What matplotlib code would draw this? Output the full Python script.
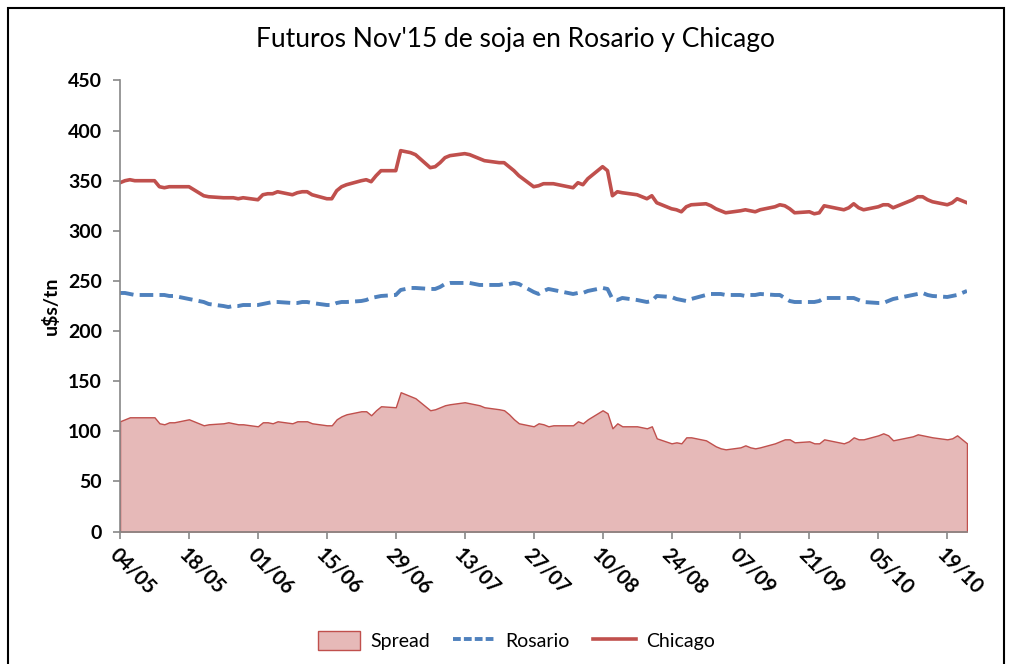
import pandas as pd
import numpy as np
import matplotlib
matplotlib.use('Agg')
import matplotlib.pyplot as plt
import matplotlib.dates as mdates
from matplotlib.patches import Patch, Rectangle
from matplotlib.lines import Line2D

# business days 04/05/2015 - 23/10/2015 (one row per week)
dates = pd.bdate_range('2015-05-04', '2015-10-23')

chicago = [
    348, 350, 351, 350, 350,
    350, 344, 343, 344, 344,
    344, 341, 338, 335, 334,
    333, 333, 333, 332, 333,
    331, 336, 337, 337, 339,
    336, 338, 339, 339, 336,
    332, 332, 340, 344, 346,
    350, 351, 349, 355, 360,
    360, 380, 379, 378, 376,
    363, 364, 368, 373, 375,
    377, 376, 374, 372, 370,
    368, 368, 364, 360, 355,
    344, 345, 347, 347, 347,
    344, 343, 348, 346, 352,
    364, 360, 335, 339, 338,
    336, 334, 332, 335, 328,
    322, 321, 319, 324, 326,
    327, 325, 322, 320, 318,
    320, 321, 320, 319, 321,
    324, 326, 325, 322, 318,
    319, 317, 318, 325, 324,
    321, 323, 327, 323, 321,
    324, 326, 326, 323, 325,
    331, 334, 334, 331, 329,
    326, 328, 332, 330, 328,
]

rosario = [
    238, 238, 237, 236, 236,
    236, 236, 236, 235, 235,
    232, 231, 230, 229, 227,
    225, 224, 225, 225, 226,
    226, 227, 228, 229, 229,
    228, 228, 229, 229, 228,
    226, 226, 228, 229, 229,
    230, 231, 233, 234, 235,
    236, 241, 242, 243, 243,
    242, 242, 244, 247, 248,
    248, 248, 247, 246, 246,
    246, 247, 247, 248, 247,
    239, 237, 240, 242, 241,
    238, 237, 238, 238, 240,
    243, 242, 232, 231, 233,
    231, 230, 229, 230, 235,
    234, 232, 231, 230, 232,
    236, 237, 237, 237, 236,
    236, 235, 236, 236, 237,
    236, 236, 233, 230, 229,
    229, 229, 230, 233, 233,
    233, 233, 233, 231, 229,
    228, 228, 230, 232, 233,
    236, 237, 238, 236, 235,
    234, 235, 236, 238, 240,
]

spread = np.array(chicago) - np.array(rosario)

tick_dates = pd.date_range('2015-05-04', periods=13, freq='14D')

red = '#C0504D'
blue = '#4F81BD'
fill = '#E6B9B8'
font = 'Lato'

plt.rcParams['font.family'] = [font, 'DejaVu Sans']

fig = plt.figure(figsize=(10.12, 6.64), dpi=100)
ax = fig.add_axes([0.1186, 0.1995, 0.8369, 0.6793])

ax.fill_between(dates, 0, spread, facecolor=fill, edgecolor=red, linewidth=1.0)
ax.plot(dates, rosario, color=blue, linewidth=2.8, linestyle=(0, (3.5, 1.6)))
ax.plot(dates, chicago, color=red, linewidth=2.6)

ax.set_xlim(dates[0], dates[-1])
ax.set_ylim(0, 450)
ax.set_yticks(range(0, 451, 50))
ax.set_xticks(tick_dates)
ax.xaxis.set_major_formatter(mdates.DateFormatter('%d/%m'))

for s in ['top', 'right']:
    ax.spines[s].set_visible(False)
for s in ['left', 'bottom']:
    ax.spines[s].set_color('#888888')
    ax.spines[s].set_linewidth(1.2)
ax.tick_params(axis='both', colors='#888888', length=5, width=1.2)
ax.tick_params(axis='y', labelcolor='black', labelsize=14, pad=8)
ax.tick_params(axis='x', labelcolor='black', labelsize=14.5, pad=4)
for lab in ax.get_yticklabels():
    lab.set_fontweight('bold')
for lab in ax.get_xticklabels():
    lab.set_fontweight('bold')
    lab.set_rotation(-45)
    lab.set_ha('left')
    lab.set_va('top')
    lab.set_rotation_mode('anchor')

ax.set_ylabel('u$s/tn', fontsize=14, fontweight='bold', labelpad=6)

fig.text(0.509, 0.94, "Futuros Nov'15 de soja en Rosario y Chicago",
         ha='center', va='center', fontsize=19)

handles = [
    Patch(facecolor=fill, edgecolor=red, linewidth=1.0),
    Line2D([], [], color=blue, linewidth=2.8, linestyle=(0, (2.0, 0.8))),
    Line2D([], [], color=red, linewidth=2.6),
]
fig.legend(handles, ['Spread', 'Rosario', 'Chicago'], loc='center',
           bbox_to_anchor=(0.51, 0.035), ncol=3, frameon=False,
           prop={'family': font, 'size': 14}, handlelength=2.2,
           handleheight=1.1, handletextpad=0.5, columnspacing=1.2)

# chart border
fig.patches.append(Rectangle((8 / 1012, -0.05), 996 / 1012, 1.05 - 8 / 664,
                             transform=fig.transFigure, fill=False,
                             edgecolor='black', linewidth=1.5))

fig.savefig('out.png', dpi=100)
